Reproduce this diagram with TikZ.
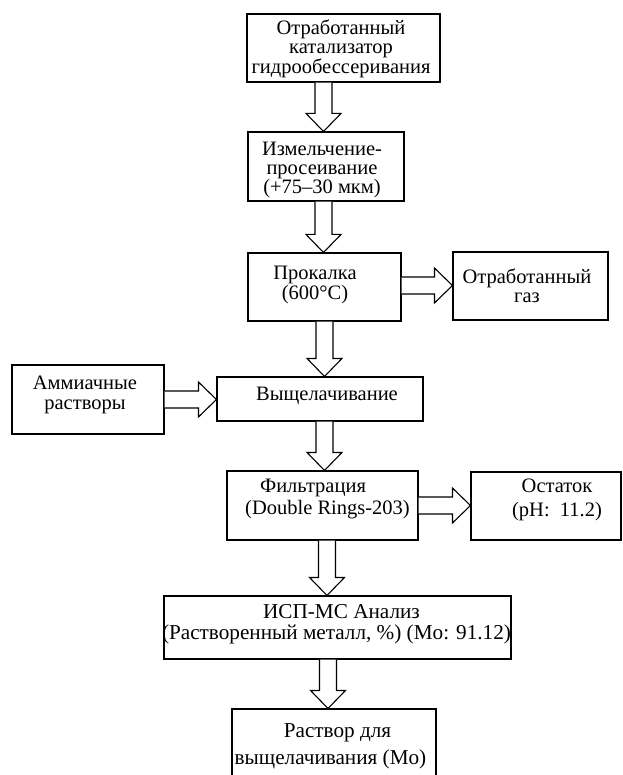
\documentclass[tikz,border=0pt]{standalone}
\usepackage{fontspec}
\setmainfont{Liberation Serif}
\usetikzlibrary{calc}
\tikzset{
  box/.style={draw, line width=1.1pt, inner sep=0pt, rectangle},
  txt/.style={align=center, inner sep=0pt},
  blockarrow/.style={draw, line width=1.1pt, fill=white, line join=miter},
}
\newcommand\fs[1]{\fontsize{20.5}{#1}\selectfont}
\newcommand\fsb[1]{\fontsize{21.2}{#1}\selectfont}
% vertical hollow arrow: from node #1 (south) to node #2 (north), axis x = #3
\newcommand\vblock[3]{\draw[blockarrow] let \p1=(#1.south), \p2=(#2.north) in
  ({#3pt-8.5pt},\y1) -- ({#3pt-8.5pt},{\y2+18pt}) -- ({#3pt-17.5pt},{\y2+18pt})
  -- ({#3pt},\y2) -- ({#3pt+17.5pt},{\y2+18pt}) -- ({#3pt+8.5pt},{\y2+18pt})
  -- ({#3pt+8.5pt},\y1);}
% horizontal hollow arrow: from node #1 (east) to node #2 (west), axis y = #3 (pixels from top)
\newcommand\hblock[3]{\draw[blockarrow] let \p1=(#1.east), \p2=(#2.west) in
  (\x1,{-#3pt+8.5pt}) -- ({\x2-18pt},{-#3pt+8.5pt}) -- ({\x2-18pt},{-#3pt+17.5pt})
  -- (\x2,{-#3pt}) -- ({\x2-18pt},{-#3pt-17.5pt}) -- ({\x2-18pt},{-#3pt-8.5pt})
  -- (\x1,{-#3pt-8.5pt});}
\begin{document}
\begin{tikzpicture}[x=1pt, y=-1pt]
\fill[white] (0,0) rectangle (622,775);
\useasboundingbox (0,0) rectangle (622,775);

% boxes
\node[box, minimum width=193pt, minimum height=68pt] (b1) at (343.5,48) {};
\node[box, minimum width=156pt, minimum height=69pt] (b2) at (326,166.5) {};
\node[box, minimum width=153pt, minimum height=68pt] (b3) at (324.5,287) {};
\node[box, minimum width=155pt, minimum height=68pt] (b4) at (530.5,286) {};
\node[box, minimum width=152pt, minimum height=69pt] (b5) at (88,399.5) {};
\node[box, minimum width=206pt, minimum height=44pt] (b6) at (320,399) {};
\node[box, minimum width=191pt, minimum height=69pt] (b7) at (322.5,505.5) {};
\node[box, minimum width=150pt, minimum height=68pt] (b8) at (546,506) {};
\node[box, minimum width=347pt, minimum height=63pt] (b9) at (337.5,627.5) {};
\node[box, minimum width=204pt, minimum height=71pt] (b10) at (334,744.5) {};

% texts
\node[txt, font=\fs{18.8}] (t1) at (341,49) {Отработанный\\катализатор\\гидрообессеривания};
\node[txt, font=\fs{19}] (t2) at (322,169.5) {Измельчение-\\просеивание\\(+75–30 мкм)};
\node[txt, font=\fs{20}] (t3) at (315,285) {Прокалка\\(600°C)};
\node[txt, font=\fs{19}] (t4) at (527,286) {Отработанный\\газ};
\node[txt, font=\fs{20}] (t5) at (85,395) {Аммиачные\\растворы};
\node[txt, font=\fs{20}] (t6) at (327,396) {Выщелачивание};
\node[txt, font=\fs{22}] (t7) at (327.5,499) {\hspace*{-29pt}Фильтрация\\(Double Rings-203)};
\node[txt, font=\fs{24}] (t8) at (557,500) {Остаток\\(pH:~~11.2)};
\node[txt, font=\fsb{21}] (t9) at (336.5,624.5) {\hspace*{10pt}ИСП-МС Анализ\\(Растворенный металл, \%) (Mo: 91.12)};
\node[txt, font=\fsb{27}] (t10) at (330.5,746.5) {\hspace*{14pt}Раствор для\\выщелачивания (Mo)};

% arrows
\vblock{b1}{b2}{323.5}
\vblock{b2}{b3}{323.5}
\vblock{b3}{b6}{324.5}
\vblock{b6}{b7}{324.5}
\vblock{b7}{b9}{327}
\vblock{b9}{b10}{328}
\hblock{b3}{b4}{285.5}
\hblock{b5}{b6}{399.5}
\hblock{b7}{b8}{505.5}
\end{tikzpicture}
\end{document}
